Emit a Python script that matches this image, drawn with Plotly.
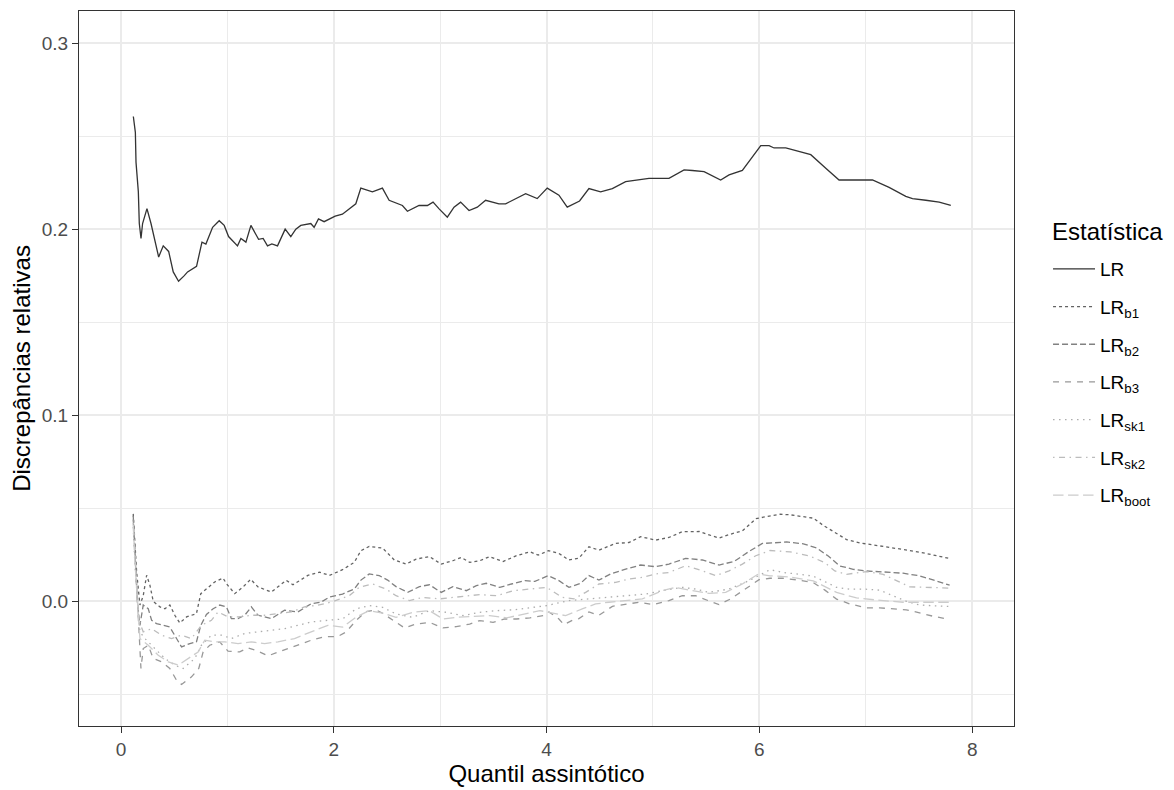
import plotly.graph_objects as go

# ---------------- data ----------------
LR_x = [0.116, 0.135, 0.141, 0.163, 0.172, 0.188, 0.203, 0.244, 0.282, 0.322,
        0.354, 0.397, 0.448, 0.491, 0.541, 0.595, 0.626, 0.710, 0.761, 0.798,
        0.861, 0.923, 0.970, 1.011, 1.095, 1.127, 1.174, 1.221, 1.293, 1.336,
        1.377, 1.418, 1.471, 1.543, 1.596, 1.643, 1.690, 1.784, 1.815, 1.856,
        1.909, 2.013, 2.081, 2.207, 2.254, 2.363, 2.457, 2.520, 2.645, 2.692,
        2.801, 2.880, 2.933, 2.990, 3.067, 3.130, 3.192, 3.271, 3.349, 3.427,
        3.552, 3.615, 3.709, 3.803, 3.912, 4.006, 4.116, 4.194, 4.310, 4.398,
        4.508, 4.618, 4.743, 4.837, 4.962, 5.150, 5.292, 5.370, 5.480, 5.636,
        5.715, 5.840, 5.918, 6.013, 6.091, 6.138, 6.248, 6.373, 6.483, 6.624,
        6.749, 7.063, 7.219, 7.376, 7.439, 7.564, 7.690, 7.799]
LR_y = [0.2605, 0.252, 0.236, 0.220, 0.203, 0.195, 0.203, 0.211, 0.203, 0.192,
        0.185, 0.191, 0.188, 0.177, 0.172, 0.175, 0.177, 0.180, 0.193, 0.192,
        0.201, 0.2045, 0.202, 0.196, 0.191, 0.195, 0.193, 0.202, 0.1945, 0.195,
        0.191, 0.192, 0.191, 0.200, 0.196, 0.200, 0.202, 0.203, 0.201, 0.2055,
        0.204, 0.207, 0.208, 0.2136, 0.222, 0.220, 0.222, 0.2155, 0.2127, 0.2096,
        0.2127, 0.2127, 0.2145, 0.2109, 0.2064, 0.2118, 0.2145, 0.210, 0.2118, 0.2155,
        0.2136, 0.2136, 0.2164, 0.219, 0.2164, 0.222, 0.2182, 0.2118, 0.2151, 0.2218,
        0.220, 0.2218, 0.2255, 0.2264, 0.2273, 0.2273, 0.2318, 0.2315, 0.2309, 0.2264,
        0.2291, 0.2315, 0.2373, 0.2449, 0.2449, 0.2436, 0.2436, 0.2418, 0.240, 0.2327,
        0.2264, 0.2264, 0.2224, 0.2176, 0.2164, 0.2155, 0.2145, 0.2127]

B1_x = [0.115, 0.125, 0.147, 0.178, 0.209, 0.241, 0.272, 0.303, 0.366, 0.413,
        0.459, 0.506, 0.553, 0.616, 0.709, 0.75, 0.803, 0.881, 0.959, 0.991,
        1.069, 1.147, 1.219, 1.288, 1.413, 1.553, 1.616, 1.756, 1.866, 1.959,
        2.082, 2.192, 2.255, 2.333, 2.459, 2.569, 2.679, 2.774, 2.899, 3.009,
        3.119, 3.198, 3.277, 3.371, 3.465, 3.591, 3.717, 3.843, 3.921, 4.016,
        4.116, 4.21, 4.304, 4.398, 4.492, 4.649, 4.774, 4.884, 5.025, 5.15,
        5.276, 5.433, 5.527, 5.621, 5.73, 5.84, 5.97, 6.116, 6.194, 6.288,
        6.413, 6.506, 6.6, 6.725, 6.819, 6.944, 7.1, 7.256, 7.413, 7.569, 7.788]
B1_y = [0.047, 0.0345, 0.0157, -0.002, 0.003, 0.014, 0.0086, 0.0, -0.003, -0.004,
        -0.002, -0.0075, -0.0116, -0.0084, -0.0066, 0.0041, 0.0068, 0.0104, 0.0125, 0.0095,
        0.0041, 0.0077, 0.0118, 0.0077, 0.005, 0.0113, 0.0089, 0.0139, 0.0157, 0.0139,
        0.017, 0.0209, 0.0272, 0.0295, 0.0286, 0.0222, 0.020, 0.0227, 0.024, 0.020,
        0.0218, 0.0236, 0.0209, 0.0218, 0.024, 0.0214, 0.0245, 0.0266, 0.0248, 0.0272,
        0.0257, 0.0222, 0.0232, 0.0293, 0.0275, 0.0311, 0.0316, 0.0347, 0.0329, 0.0343,
        0.0374, 0.0375, 0.0357, 0.034, 0.0361, 0.0379, 0.0445, 0.0461, 0.0468, 0.0465,
        0.0456, 0.0447, 0.0408, 0.0362, 0.0332, 0.0314, 0.0301, 0.0287, 0.0273, 0.0257, 0.023]

B2_x = [0.115, 0.125, 0.1375, 0.156, 0.178, 0.209, 0.256, 0.288, 0.334, 0.397,
        0.459, 0.522, 0.569, 0.647, 0.709, 0.75, 0.803, 0.866, 0.928, 0.991,
        1.0375, 1.1, 1.1625, 1.225, 1.2875, 1.4125, 1.5375, 1.6625, 1.7875, 1.881,
        1.959, 2.082, 2.192, 2.255, 2.333, 2.428, 2.506, 2.585, 2.695, 2.805,
        2.899, 3.009, 3.119, 3.245, 3.34, 3.434, 3.56, 3.67, 3.796, 3.89,
        4.016, 4.116, 4.21, 4.32, 4.398, 4.492, 4.602, 4.743, 4.884, 5.025,
        5.15, 5.307, 5.464, 5.621, 5.762, 5.903, 6.028, 6.131, 6.256, 6.413,
        6.538, 6.647, 6.756, 6.881, 7.006, 7.163, 7.35, 7.506, 7.663, 7.788]
B2_y = [0.046, 0.0336, 0.0175, -0.002, -0.0129, -0.002, -0.004, -0.0102, -0.012, -0.0129,
        -0.0138, -0.020, -0.0245, -0.0227, -0.0218, -0.0129, -0.0071, -0.004, -0.002, -0.003,
        -0.0093, -0.0093, -0.0075, -0.003, -0.0075, -0.0093, -0.0048, -0.0057, -0.0013, -0.0004,
        0.0023, 0.0039, 0.0066, 0.0114, 0.0147, 0.0138, 0.0114, 0.0079, 0.0048, 0.0079,
        0.0089, 0.0048, 0.0079, 0.0057, 0.0084, 0.0097, 0.0075, 0.0093, 0.0111, 0.0107,
        0.0138, 0.0111, 0.0075, 0.0097, 0.0138, 0.0114, 0.0147, 0.0173, 0.0195, 0.0186,
        0.020, 0.0231, 0.0222, 0.0195, 0.0214, 0.0268, 0.0311, 0.0314, 0.0319, 0.0309,
        0.0287, 0.0243, 0.019, 0.0172, 0.0163, 0.0158, 0.0151, 0.0137, 0.011, 0.0087]

B3_x = [0.115, 0.125, 0.147, 0.169, 0.1875, 0.209, 0.256, 0.303, 0.381, 0.459,
        0.522, 0.569, 0.663, 0.731, 0.772, 0.834, 0.928, 1.006, 1.116, 1.194,
        1.288, 1.381, 1.506, 1.663, 1.788, 1.913, 2.035, 2.113, 2.208, 2.302,
        2.396, 2.459, 2.538, 2.585, 2.664, 2.774, 2.899, 3.025, 3.151, 3.277,
        3.371, 3.497, 3.607, 3.717, 3.843, 3.969, 4.022, 4.116, 4.163, 4.241,
        4.304, 4.398, 4.492, 4.618, 4.743, 4.868, 5.0, 5.15, 5.276, 5.401,
        5.527, 5.621, 5.73, 5.871, 5.997, 6.1, 6.225, 6.381, 6.506, 6.616,
        6.725, 6.85, 7.006, 7.131, 7.256, 7.381, 7.506, 7.631, 7.788]
B3_y = [0.044, 0.0336, 0.005, -0.0182, -0.0361, -0.0254, -0.0236, -0.0307, -0.0325, -0.0361,
        -0.0424, -0.0447, -0.0406, -0.0361, -0.0272, -0.0236, -0.0218, -0.0268, -0.0272, -0.025,
        -0.0268, -0.0293, -0.0268, -0.0236, -0.0209, -0.019, -0.019, -0.0166, -0.0104, -0.0055,
        -0.0046, -0.0064, -0.0095, -0.0113, -0.0143, -0.0122, -0.0113, -0.0143, -0.0136, -0.0122,
        -0.0104, -0.0113, -0.0095, -0.0095, -0.0089, -0.0077, -0.0057, -0.0095, -0.0125, -0.0102,
        -0.0093, -0.0057, -0.0075, -0.0027, -0.0018, -0.0005, -0.0018, 0.0004, 0.003, 0.003,
        0.0002, -0.0018, 0.0013, 0.0066, 0.0116, 0.0124, 0.0124, 0.0113, 0.0101, 0.006,
        0.0012, -0.0014, -0.0035, -0.0035, -0.0041, -0.0046, -0.0062, -0.008, -0.0098]

SK1_x = [0.115, 0.131, 0.178, 0.225, 0.319, 0.4125, 0.506, 0.584, 0.694, 0.756,
         0.85, 0.944, 1.0375, 1.1625, 1.2875, 1.4125, 1.5375, 1.6625, 1.7875, 1.944,
         2.082, 2.208, 2.333, 2.459, 2.585, 2.742, 2.899, 3.057, 3.214, 3.371,
         3.528, 3.686, 3.843, 4.0, 4.21, 4.398, 4.586, 4.774, 4.931, 5.088,
         5.276, 5.401, 5.527, 5.715, 5.903, 6.1, 6.225, 6.381, 6.506, 6.6,
         6.725, 6.85, 7.0, 7.131, 7.256, 7.381, 7.506, 7.63, 7.788]
SK1_y = [0.040, 0.0193, -0.0164, -0.020, -0.0254, -0.0307, -0.0343, -0.0361, -0.0307, -0.0236,
         -0.0182, -0.0182, -0.020, -0.0173, -0.0164, -0.0155, -0.0147, -0.0129, -0.0111, -0.0102,
         -0.0095, -0.0041, -0.0023, -0.0032, -0.0068, -0.0086, -0.005, -0.0059, -0.0077, -0.0059,
         -0.005, -0.0046, -0.0036, -0.0023, 0.0004, 0.0013, 0.0021, 0.003, 0.0039, 0.0057,
         0.0075, 0.0066, 0.0048, 0.0066, 0.0111, 0.017, 0.0155, 0.0145, 0.0135, 0.011,
         0.0075, 0.0065, 0.0065, 0.006, 0.003, 0.0, -0.002, -0.0025, -0.0028]

SK2_x = [0.115, 0.131, 0.1625, 0.209, 0.2875, 0.381, 0.475, 0.569, 0.6625, 0.756,
         0.85, 0.9125, 1.006, 1.1, 1.225, 1.35, 1.475, 1.6, 1.725, 1.85,
         1.975, 2.145, 2.239, 2.365, 2.491, 2.585, 2.711, 2.836, 2.994, 3.119,
         3.245, 3.371, 3.528, 3.686, 3.843, 4.0, 4.147, 4.257, 4.367, 4.492,
         4.649, 4.774, 4.9, 5.025, 5.15, 5.307, 5.464, 5.589, 5.715, 5.84,
         5.966, 6.1, 6.288, 6.475, 6.616, 6.709, 6.819, 7.006, 7.163, 7.288,
         7.413, 7.788]
SK2_y = [0.042, 0.0229, -0.0093, -0.0164, -0.0147, -0.0182, -0.020, -0.0182, -0.020, -0.0129,
         -0.0102, -0.0057, -0.0084, -0.0084, -0.0075, -0.0075, -0.0066, -0.0057, -0.003, -0.0021,
         -0.0004, 0.003, 0.0075, 0.0093, 0.0066, 0.003, 0.0004, 0.0021, 0.0013, 0.0021,
         0.003, 0.0036, 0.003, 0.0057, 0.0066, 0.0075, 0.0021, 0.0013, 0.0048, 0.0093,
         0.0102, 0.012, 0.0129, 0.0147, 0.0155, 0.0191, 0.0164, 0.0138, 0.0164, 0.020,
         0.0245, 0.0273, 0.0266, 0.0243, 0.0207, 0.0163, 0.0145, 0.016, 0.0145, 0.011,
         0.0078, 0.0071]

BOOT_x = [0.115, 0.131, 0.178, 0.256, 0.35, 0.444, 0.5375, 0.631, 0.725, 0.7875,
          0.881, 0.975, 1.1, 1.225, 1.35, 1.475, 1.631, 1.7875, 1.944, 2.082,
          2.208, 2.333, 2.459, 2.585, 2.742, 2.899, 3.025, 3.151, 3.308, 3.465,
          3.623, 3.78, 3.937, 4.022, 4.179, 4.335, 4.461, 4.586, 4.743, 4.9,
          5.088, 5.213, 5.37, 5.527, 5.683, 5.84, 5.991, 6.1, 6.288, 6.506,
          6.725, 6.913, 7.1, 7.35, 7.788]
BOOT_y = [0.041, 0.0211, -0.020, -0.0236, -0.029, -0.0325, -0.0343, -0.0307, -0.0272, -0.0209,
          -0.0218, -0.0218, -0.0227, -0.0218, -0.0227, -0.0218, -0.020, -0.0164, -0.0129, -0.0139,
          -0.0086, -0.005, -0.0064, -0.0086, -0.0059, -0.005, -0.0095, -0.0086, -0.0082, -0.0077,
          -0.0089, -0.0071, -0.005, -0.0059, -0.0077, -0.0041, -0.0014, -0.0005, 0.0004, 0.0013,
          0.0057, 0.0075, 0.0057, 0.0043, 0.0048, 0.0093, 0.0147, 0.0137, 0.0131, 0.011,
          0.0048, 0.0018, 0.0007, -0.0005, -0.0005]

SERIES_NAMES = ["LR", "LR<sub>b1</sub>", "LR<sub>b2</sub>", "LR<sub>b3</sub>",
                "LR<sub>sk1</sub>", "LR<sub>sk2</sub>", "LR<sub>boot</sub>"]
LEGEND_TITLE = "Estatística"
X_TICKS = [0, 2, 4, 6, 8]
Y_TICKS = [0.0, 0.1, 0.2, 0.3]
Y_TICK_LABELS = ["0.0", "0.1", "0.2", "0.3"]

# ---------------- styles ----------------
COLORS = ["#333333", "#636363", "#818181", "#989898", "#ACACAC", "#BCBCBC", "#CCCCCC"]
DASHES = ["solid", "3px,3px", "6px,3px", "6px,6px", "1.5px,4.5px",
          "1.5px,4.5px,6px,4.5px", "10.5px,4.5px"]

xs = [LR_x, B1_x, B2_x, B3_x, SK1_x, SK2_x, BOOT_x]
ys = [LR_y, B1_y, B2_y, B3_y, SK1_y, SK2_y, BOOT_y]

fig = go.Figure()
for i, (name, x, y) in enumerate(zip(SERIES_NAMES, xs, ys)):
    fig.add_trace(go.Scatter(
        x=x, y=y, mode="lines", name=name, legendgroup=str(i),
        line=dict(color=COLORS[i], width=1.3, dash=DASHES[i]),
    ))

FONT = "Liberation Sans, Arial, sans-serif"
axis_common = dict(
    showgrid=True, gridcolor="#EBEBEB", gridwidth=1.6,
    zeroline=False, showline=True, linecolor="#333333", linewidth=1.2,
    mirror=True, ticks="outside", ticklen=6, tickcolor="#333333", tickwidth=1.1,
    tickfont=dict(size=19, color="#4D4D4D", family=FONT),
    automargin=False,
)

# The page body has an 8px default margin; the figure is sized to fit the
# 1174x790 window with that offset.
fig.update_layout(
    width=1166, height=782,
    paper_bgcolor="white", plot_bgcolor="white",
    font=dict(family=FONT, color="black"),
    margin=dict(l=71, r=160, t=3, b=64, autoexpand=False),
    xaxis=dict(
        range=[-0.3947, 8.393], tickvals=X_TICKS,
        minor=dict(tickvals=[1, 3, 5, 7], showgrid=True, gridcolor="#EBEBEB",
                   gridwidth=0.9, ticks=""),
        title=dict(text="Quantil assintótico", font=dict(size=24, family=FONT),
                   standoff=6),
        **axis_common,
    ),
    yaxis=dict(
        range=[-0.067, 0.3172], tickvals=Y_TICKS, ticktext=Y_TICK_LABELS,
        minor=dict(tickvals=[-0.05, 0.05, 0.15, 0.25], showgrid=True,
                   gridcolor="#EBEBEB", gridwidth=0.9, ticks=""),
        title=dict(text="Discrepâncias relativas", font=dict(size=24, family=FONT),
                   standoff=6),
        **axis_common,
    ),
    legend=dict(
        font=dict(size=19, family=FONT, color="black"),
        x=1.0364, xanchor="left", y=0.6657, yanchor="top",
        tracegroupgap=10, itemwidth=42, bgcolor="rgba(0,0,0,0)",
    ),
    showlegend=True,
    annotations=[dict(
        text=LEGEND_TITLE, xref="paper", yref="paper",
        x=1.0385, y=0.6913, xanchor="left", yanchor="middle",
        showarrow=False, font=dict(size=24, family=FONT, color="black"),
    )],
)

fig.write_html("out.html")
